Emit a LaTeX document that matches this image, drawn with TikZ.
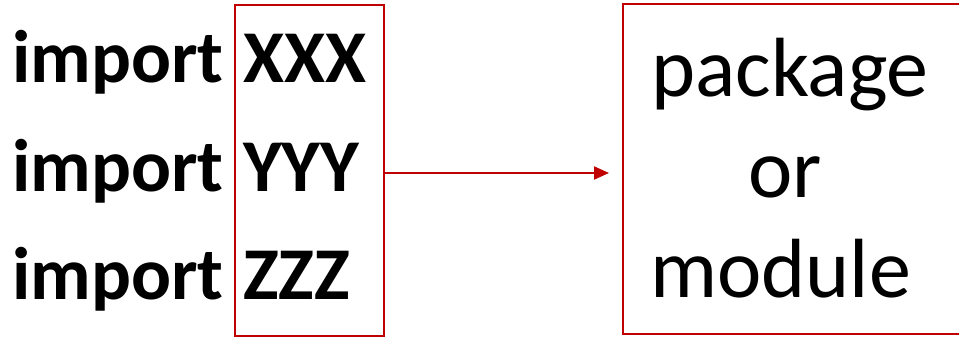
\documentclass[tikz,border=0pt]{standalone}
\usepackage{fontspec}
\setmainfont{Carlito}
\usetikzlibrary{arrows.meta}
\definecolor{boxred}{HTML}{C00000}
\tikzset{
  frame/.style={draw=boxred, line width=2pt},
  kw/.style={anchor=base west, inner sep=0pt, font=\fontsize{74.5}{88}\selectfont\bfseries},
  lbl/.style={anchor=base west, inner sep=0pt, font=\fontsize{84}{100}\selectfont},
  link/.style={draw=boxred, line width=2pt, -{Triangle[length=15pt,width=13pt]}}
}
\begin{document}
\begin{tikzpicture}[x=1pt,y=1pt]
\useasboundingbox (0,0) rectangle (959,339);
\clip (0,0) rectangle (959,339);
% left column
\node[kw] (i1) at (12,256) {import};
\node[kw] (i2) at (12,147) {import};
\node[kw] (i3) at (12,39) {import};
\node[kw] (x) at (243,256) {XXX};
\node[kw] (y) at (243,147) {YYY};
\node[kw] (z) at (243,39) {ZZZ};
% boxes
\node[frame, minimum width=149pt, minimum height=331.5pt, inner sep=0pt, anchor=south west] (names) at (234,1.5) {};
\node[frame, minimum width=360pt, minimum height=330.5pt, inner sep=0pt, anchor=south west] (target) at (622,3.5) {};
% right texts
\node[lbl] (p) at (651,242) {package};
\node[lbl] (o) at (748,141) {or};
\node[lbl] (m) at (650,41) {module};
% arrow
\coordinate (tip) at (609,166);
\draw[link] (names.east |- tip) -- (tip);
\end{tikzpicture}
\end{document}
